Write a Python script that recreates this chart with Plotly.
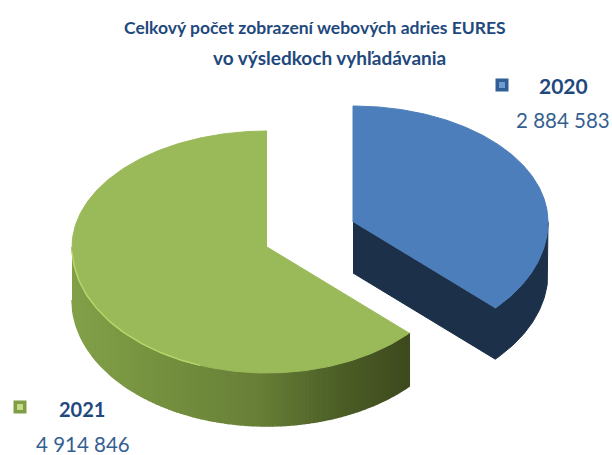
import numpy as np
import plotly.graph_objects as go

categories = ["2020", "2021"]
values = [2884583, 4914846]
title_lines = ["Celkový počet zobrazení webových adries EURES", "vo výsledkoch vyhľadávania"]

WIDTH, HEIGHT = 612, 455
RX, RY_UP, RY_DOWN = 195, 116, 126
CENTERS = {"2020": (353, 222), "2021": (267, 247)}
DEPTH = {"2020": 51, "2021": 53}
TOP = {"2020": "#4c7ebb", "2021": "#9aba59"}
WALL_2020 = "#1c3049"
GREEN_STOPS = [(0.0, (130, 160, 72)), (0.25, (118, 146, 64)), (0.55, (104, 128, 56)),
               (0.8, (76, 93, 38)), (1.0, (62, 74, 30))]
TEXT = "#1f497d"
NUM = "#365f91"


def project(cat, deg):
    a = np.radians(deg)
    cx, cy = CENTERS[cat]
    c = np.cos(a)
    x = cx + RX * np.sin(a)
    y = cy - np.where(c >= 0, RY_UP, RY_DOWN) * c
    return x, y


def poly(x, y, color, lw=1):
    return go.Scatter(x=list(x), y=list(y), mode="lines", fill="toself", fillcolor=color,
                      line=dict(color=color, width=lw), hoverinfo="skip", showlegend=False)


total = sum(values)
sweep_2020 = 360 * values[0] / total
fig = go.Figure()

# 2021 slice: wall strips then top
cat = "2021"
d = DEPTH[cat]
cx, cy = CENTERS[cat]
arc = np.linspace(sweep_2020, 360, 260)
ax, ay = project(cat, arc)
xs_fr = [s[0] for s in GREEN_STOPS]
x_min, x_max = cx - RX, float(project(cat, sweep_2020)[0])
edges = np.linspace(x_min, x_max, 85)
for e0, e1 in zip(edges[:-1], edges[1:]):
    seg = 180 - np.degrees(np.arcsin((np.linspace(e0, e1, 6) - cx) / RX))
    sx, sy = project(cat, seg)
    f = ((e0 + e1) / 2 - x_min) / (x_max - x_min)
    rgb = [np.interp(f, xs_fr, [s[1][i] for s in GREEN_STOPS]) for i in range(3)]
    col = "rgb(%d,%d,%d)" % tuple(rgb)
    fig.add_trace(poly(np.r_[sx, sx[::-1]], np.r_[sy, sy[::-1] + d], col, 1.5))
fig.add_trace(poly(np.r_[cx, ax], np.r_[cy, ay], TOP[cat]))
rim = np.linspace(200, 268, 60)
rx_, ry_ = project(cat, rim)
fig.add_trace(go.Scatter(x=rx_, y=ry_, mode="lines", line=dict(color="#b4d76a", width=1.5),
                         hoverinfo="skip", showlegend=False))

# 2020 slice: wall then top
cat = "2020"
d = DEPTH[cat]
cx, cy = CENTERS[cat]
arc = np.linspace(0, sweep_2020, 200)
ax, ay = project(cat, arc)
wall = np.linspace(90, sweep_2020, 60)
wx, wy = project(cat, wall)
fig.add_trace(poly(np.r_[cx, wx[-1], wx[::-1], wx, cx],
                   np.r_[cy, wy[-1], wy[::-1], wy + d, cy + d], WALL_2020))
fig.add_trace(poly(np.r_[cx, ax], np.r_[cy, ay], TOP[cat]))

# legend keys
for (lx, ly, outer, inner) in [(502, 85, "#2f5f95", "#6f9bd0"), (20, 407, "#7f9e46", "#c4dc86")]:
    fig.add_trace(go.Scatter(x=[lx], y=[ly], mode="markers",
                             marker=dict(symbol="square", size=13, color=outer),
                             hoverinfo="skip", showlegend=False))
    fig.add_trace(go.Scatter(x=[lx], y=[ly], mode="markers",
                             marker=dict(symbol="square", size=6, color=inner),
                             hoverinfo="skip", showlegend=False))


def fmt(v):
    return f"{v:,}".replace(",", " ")


def label(x, y, text, size, color, bold=False):
    fig.add_annotation(x=x, y=y, xref="x", yref="y", text=f"<b>{text}</b>" if bold else text,
                       showarrow=False, xanchor="center", yanchor="middle",
                       font=dict(family="Lato", size=size, color=color))


label(315, 27, title_lines[0], 17.5, TEXT, True)
label(329, 57, title_lines[1], 19, TEXT, True)
label(563, 85, categories[0], 21, TEXT, True)
label(563, 120, fmt(values[0]), 20.5, NUM)
label(82, 409, categories[1], 20, TEXT, True)
label(83, 444, fmt(values[1]), 20.5, NUM)

fig.update_layout(width=WIDTH, height=HEIGHT, margin=dict(l=0, r=0, t=0, b=0),
                  paper_bgcolor="white", plot_bgcolor="white",
                  xaxis=dict(range=[0, WIDTH], visible=False, fixedrange=True),
                  yaxis=dict(range=[HEIGHT, 0], visible=False, fixedrange=True),
                  showlegend=False)
fig.write_html("out.html", config={"displayModeBar": False},
               post_script="document.body.style.margin='0';document.documentElement.style.overflow='hidden';")
